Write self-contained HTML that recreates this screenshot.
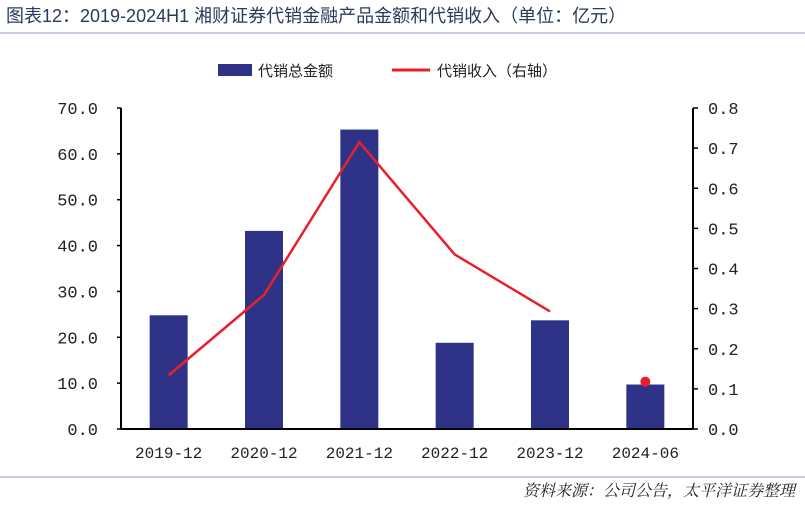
<!DOCTYPE html>
<html><head><meta charset="utf-8"><style>
body{margin:0;width:805px;height:503px;background:#fff;overflow:hidden;font-family:"Liberation Sans","Noto Sans CJK SC",sans-serif}
svg text{font-family:"Liberation Mono","Noto Sans CJK SC",monospace}
</style></head><body>
<svg width="805" height="503">
<text x="6" y="22" font-size="18" fill="#2b3a5c" style="font-family:'Liberation Sans','Noto Sans CJK SC',sans-serif">图表12：2019-2024H1 湘财证券代销金融产品金额和代销收入（单位：亿元）</text>
<line x1="0" y1="33" x2="805" y2="33" stroke="#b8bfd6" stroke-width="1.5"/>
<g>
<rect x="218" y="64" width="34" height="12" fill="#2e3388"/>
<text x="258" y="76" font-size="15" fill="#222">代销总金额</text>
<line x1="392" y1="70" x2="430" y2="70" stroke="#e8202a" stroke-width="3"/>
<text x="437" y="76" font-size="15" fill="#222">代销收入（右轴）</text>
</g>
<g id="plot"></g>
<line x1="0" y1="477" x2="805" y2="477" stroke="#b8bfd6" stroke-width="1.5"/>
<text x="795" y="496" font-size="16" font-style="italic" text-anchor="end" fill="#222" style="font-family:'Liberation Serif','Noto Serif CJK SC',serif">资料来源：公司公告，太平洋证券整理</text>
</svg>
<script>
const categories=["2019-12","2020-12","2021-12","2022-12","2023-12","2024-06"];
const amountValues=[24.8,43.2,65.3,18.8,23.7,9.7];
const incomeValues=[0.134,0.334,0.715,0.435,0.293];
const incomeDot=[0.118];
const leftTicks=["0.0","10.0","20.0","30.0","40.0","50.0","60.0","70.0"];
const rightTicks=["0.0","0.1","0.2","0.3","0.4","0.5","0.6","0.7","0.8"];
const NS="http://www.w3.org/2000/svg",g=document.getElementById('plot');
const X0=121,X1=693,Y0=429,Y1=108,bw=(X1-X0)/categories.length;
const yL=v=>Y0-(v/70)*(Y0-Y1), yR=v=>Y0-(v/0.8)*(Y0-Y1), xc=i=>X0+bw*(i+0.5);
function mk(t,a){const e=document.createElementNS(NS,t);for(const k in a)e.setAttribute(k,a[k]);g.appendChild(e);return e;}
amountValues.forEach((v,i)=>{const r=mk('rect',{x:xc(i)-19,y:yL(v),width:38,height:Y0-yL(v),fill:'#2e3388'});

});
let a=mk('line',{x1:X0,y1:Y1,x2:X0,y2:Y0,stroke:'#000','stroke-width':2});


a=mk('line',{x1:X1,y1:Y1,x2:X1,y2:Y0,stroke:'#000','stroke-width':2});


a=mk('line',{x1:X0,y1:Y0,x2:X1,y2:Y0,stroke:'#000','stroke-width':2});


leftTicks.forEach((t,i)=>{const y=yL(+t);mk('line',{x1:X0-4,y1:y,x2:X0,y2:y,stroke:'#000','stroke-width':1.5});
const tx=mk('text',{x:98,y:y+6,'font-size':17,'text-anchor':'end',fill:'#222'});tx.textContent=t;

});
rightTicks.forEach((t,i)=>{const y=yR(+t);mk('line',{x1:X1,y1:y,x2:X1+5,y2:y,stroke:'#000','stroke-width':1.5});
const tx=mk('text',{x:708,y:y+6,'font-size':17,fill:'#222'});tx.textContent=t;

});
categories.forEach((c,i)=>{const tx=mk('text',{x:xc(i),y:458,'font-size':16,'text-anchor':'middle',fill:'#222'});tx.textContent=c;

});
const ln=mk('polyline',{points:incomeValues.map((v,i)=>xc(i)+','+yR(v)).join(' '),fill:'none',stroke:'#e8202a','stroke-width':2.5});


const d=mk('circle',{cx:xc(5),cy:yR(incomeDot[0]),r:5,fill:'#e8202a'});


</script>
</body></html>
